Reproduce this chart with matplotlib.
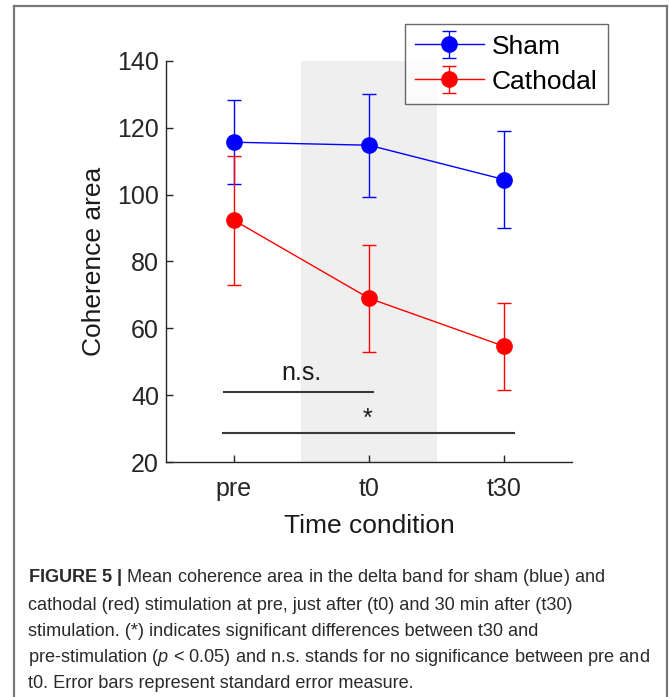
import matplotlib.pyplot as plt
from matplotlib.lines import Line2D

plt.rcParams['font.family'] = ['Liberation Sans', 'DejaVu Sans']
plt.rcParams['mathtext.fontset'] = 'custom'
plt.rcParams['mathtext.rm'] = 'Liberation Sans'
plt.rcParams['mathtext.it'] = 'Liberation Sans:italic'
plt.rcParams['mathtext.bf'] = 'Liberation Sans:bold'

# data
conditions = ['pre', 't0', 't30']
sham_mean = [115.7, 114.8, 104.5]
sham_err = [12.5, 15.4, 14.5]
cath_mean = [92.4, 69.0, 54.6]
cath_err = [19.3, 16.0, 13.0]
yticks = [20, 40, 60, 80, 100, 120, 140]

caption = [
    r'$\mathbf{FIGURE\ 5\ |}$ Mean coherence area in the delta band for sham (blue) and',
    'cathodal (red) stimulation at pre, just after (t0) and 30 min after (t30)',
    'stimulation. (*) indicates significant differences between t30 and',
    r'pre-stimulation ($p$ < 0.05) and n.s. stands for no significance between pre and',
    't0. Error bars represent standard error measure.',
]

W, H = 669, 697
fig = plt.figure(figsize=(W / 100, H / 100), dpi=100)
ax = fig.add_axes([166 / W, 1 - 462 / H, (572 - 166) / W, (462 - 61) / H])

x = [1, 2, 3]
ax.axvspan(1.5, 2.5, ymin=0, ymax=1, color='#efefef', lw=0, zorder=0)

ax.errorbar(x, sham_mean, yerr=sham_err, color='#0000ff', marker='o', markersize=11,
            lw=1.0, elinewidth=1.0, capsize=5, capthick=1.0, label='Sham', zorder=3)
ax.errorbar(x, cath_mean, yerr=cath_err, color='#ff0000', marker='o', markersize=11,
            lw=1.0, elinewidth=1.0, capsize=5, capthick=1.0, label='Cathodal', zorder=3)

# significance bars
ax.plot([0.93, 2.03], [40.9, 40.9], color='#3a3a3a', lw=1.5, zorder=2)
ax.plot([0.92, 3.07], [28.6, 28.6], color='#3a3a3a', lw=1.5, zorder=2)
ax.text(1.5, 46.5, 'n.s.', ha='center', va='center', fontsize=18, color='#1a1a1a')
ax.text(1.99, 33.0, '*', ha='center', va='center', fontsize=18, color='#1a1a1a')

ax.set_xlim(0.5, 3.5)
ax.set_ylim(20, 140)
ax.set_xticks(x)
ax.set_xticklabels(conditions)
ax.set_yticks(yticks)
for s in ['top', 'right']:
    ax.spines[s].set_visible(False)
for s in ['left', 'bottom']:
    ax.spines[s].set_color('#262626')
    ax.spines[s].set_linewidth(1.0)
ax.tick_params(direction='in', length=5, width=1.0, colors='#262626',
               labelsize=18)
ax.tick_params(axis='y', pad=5)
ax.tick_params(axis='x', pad=11)
ax.set_xlabel('Time condition', fontsize=19, color='#1a1a1a', labelpad=9)
ax.set_ylabel('Coherence area', fontsize=19, color='#1a1a1a', labelpad=8)

leg = ax.legend(loc='upper right', bbox_to_anchor=(608 / W, 1 - 24 / H),
                bbox_transform=fig.transFigure, fontsize=19, frameon=True,
                fancybox=False, edgecolor='#444444', handlelength=2.6,
                handletextpad=0.3, labelspacing=0.42, borderpad=0.4,
                borderaxespad=0)
leg.get_frame().set_linewidth(1.0)

# outer frame (open at bottom)
frame_c = '#777777'
fig.add_artist(Line2D([14 / W, 14 / W], [0, 1 - 6 / H], transform=fig.transFigure,
                      color=frame_c, lw=1.6))
fig.add_artist(Line2D([14 / W, 667 / W], [1 - 6 / H, 1 - 6 / H], transform=fig.transFigure,
                      color=frame_c, lw=1.6))
fig.add_artist(Line2D([667 / W, 667 / W], [0, 1 - 6 / H], transform=fig.transFigure,
                      color=frame_c, lw=1.6))

# caption
line_y = [578, 605, 631.5, 658, 684]
for txt, yy in zip(caption, line_y):
    fig.text(28 / W, 1 - yy / H, txt, ha='left', va='center', fontsize=13.1,
             color='#2a2a2a')

fig.savefig('out.png', dpi=100)
